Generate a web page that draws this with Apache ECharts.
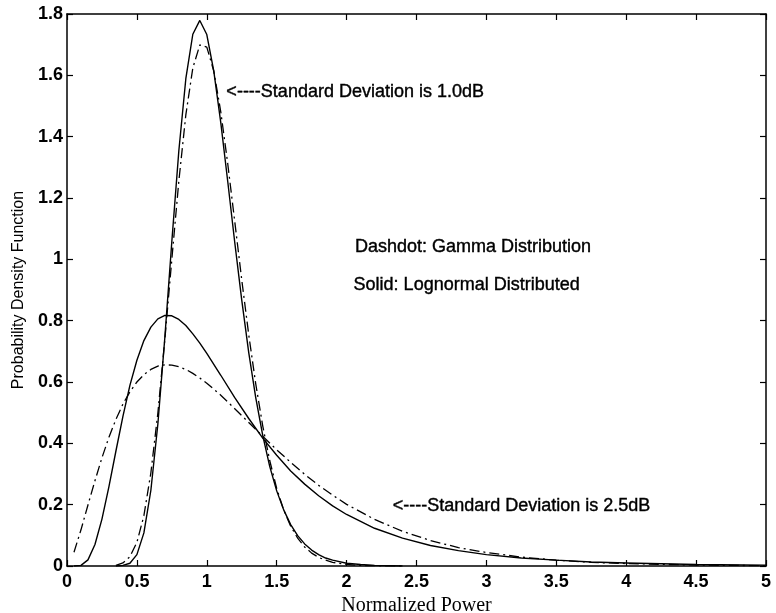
<!DOCTYPE html>
<html>
<head>
<meta charset="utf-8">
<script src="https://cdn.jsdelivr.net/npm/echarts@6/dist/echarts.min.js"></script>
<style>
  html, body { margin: 0; padding: 0; background: #fff; }
  #chart { width: 776px; height: 613px; }
</style>
</head>
<body>
<div id="chart"></div>
<script>
// Normalized power sample points for the narrow (1.0 dB) curves
const xNarrow = [0.35, 0.40, 0.45, 0.50, 0.55, 0.60, 0.65, 0.70, 0.75, 0.80,
                 0.85, 0.90, 0.95, 1.00, 1.05, 1.10, 1.15, 1.20, 1.25, 1.30,
                 1.35, 1.40, 1.45, 1.50, 1.55, 1.60, 1.65, 1.70, 1.75, 1.80,
                 1.85, 1.90, 2.00, 2.10, 2.20, 2.40];
// Lognormal PDF, standard deviation 1.0 dB
const lognormal10 = [0.000, 0.002, 0.009, 0.037, 0.108, 0.247, 0.463, 0.746, 1.059, 1.354,
                     1.589, 1.734, 1.779, 1.733, 1.614, 1.446, 1.253, 1.055, 0.867, 0.696,
                     0.549, 0.426, 0.325, 0.245, 0.183, 0.135, 0.099, 0.072, 0.052, 0.037,
                     0.026, 0.019, 0.009, 0.005, 0.002, 0.000];
// Gamma PDF, standard deviation 1.0 dB
const gamma10 = [0.002, 0.010, 0.030, 0.077, 0.164, 0.304, 0.499, 0.739, 1.001, 1.255,
                 1.471, 1.624, 1.699, 1.692, 1.614, 1.481, 1.311, 1.123, 0.933, 0.754,
                 0.594, 0.457, 0.344, 0.253, 0.183, 0.130, 0.091, 0.062, 0.042, 0.028,
                 0.019, 0.012, 0.005, 0.002, 0.001, 0.000];

// Normalized power sample points for the wide (2.5 dB) curves
const xWide = [0.05, 0.10, 0.15, 0.20, 0.25, 0.30, 0.35, 0.40, 0.45, 0.50,
               0.55, 0.60, 0.65, 0.70, 0.75, 0.80, 0.85, 0.90, 0.95, 1.00,
               1.1, 1.2, 1.3, 1.4, 1.5, 1.6, 1.7, 1.8, 1.9, 2.0,
               2.2, 2.4, 2.6, 2.8, 3.0, 3.25, 3.5, 3.75, 4.0, 4.5, 5.0];
// Lognormal PDF, standard deviation 2.5 dB
const lognormal25 = [0.000, 0.002, 0.020, 0.070, 0.153, 0.259, 0.375, 0.488, 0.589, 0.671,
                     0.735, 0.779, 0.806, 0.817, 0.816, 0.804, 0.784, 0.757, 0.727, 0.693,
                     0.622, 0.549, 0.481, 0.417, 0.361, 0.310, 0.267, 0.229, 0.196, 0.168,
                     0.123, 0.091, 0.067, 0.050, 0.037, 0.026, 0.019, 0.013, 0.010, 0.005, 0.003];
// Gamma PDF, standard deviation 2.5 dB
const gamma25 = [0.045, 0.118, 0.199, 0.278, 0.353, 0.420, 0.478, 0.528, 0.568, 0.600,
                 0.624, 0.641, 0.652, 0.656, 0.655, 0.650, 0.641, 0.628, 0.613, 0.596,
                 0.557, 0.513, 0.468, 0.423, 0.379, 0.338, 0.299, 0.263, 0.231, 0.201,
                 0.152, 0.113, 0.083, 0.060, 0.044, 0.029, 0.019, 0.012, 0.008, 0.003, 0.001];

// Text notes placed in data coordinates (left edge, vertical centre)
const notes = [
  { text: '<----Standard Deviation is 1.0dB', at: [1.14, 1.545] },
  { text: 'Dashdot: Gamma Distribution',      at: [2.06, 1.04] },
  { text: 'Solid: Lognormal Distributed',     at: [2.05, 0.916] },
  { text: '<----Standard Deviation is 2.5dB', at: [2.33, 0.195] }
];

const SANS = '"Liberation Sans", Arial, Helvetica, sans-serif';
const SERIF = '"Liberation Serif", "Times New Roman", serif';
const INK = '#000';

const pairs = (xs, ys) => xs.map((x, i) => [x, ys[i]]);

const solid = { color: INK, width: 1.4, type: 'solid' };
const dashdot = { color: INK, width: 1.3, type: [10, 4, 2, 4] };

const lineSeries = (name, xs, ys, style) => ({
  name, type: 'line', data: pairs(xs, ys),
  showSymbol: false, symbol: 'none', smooth: false,
  lineStyle: style, z: 3, silent: true, animation: false
});

const frameAxis = {
  axisLine: { show: true, onZero: false, lineStyle: { color: INK, width: 1.5 } },
  axisTick: { show: true, inside: true, length: 6, lineStyle: { color: INK, width: 1.2 } },
  splitLine: { show: false }
};

const tickText = { fontFamily: SANS, fontSize: 18, fontWeight: 'bold', color: INK };

const chart = echarts.init(document.getElementById('chart'), null, { renderer: 'canvas' });

chart.setOption({
  animation: false,
  backgroundColor: '#fff',
  grid: { left: 67, right: 10, top: 14, bottom: 47, containLabel: false, outerBoundsMode: 'none' },
  xAxis: [
    Object.assign({
      type: 'value', position: 'bottom', min: 0, max: 5, interval: 0.5,
      name: 'Normalized Power', nameLocation: 'middle', nameGap: 22,
      nameTextStyle: { fontFamily: SERIF, fontSize: 20, color: INK },
      axisLabel: Object.assign({ margin: 7 }, tickText)
    }, frameAxis),
    Object.assign({
      type: 'value', position: 'top', min: 0, max: 5, interval: 0.5,
      axisLabel: { show: false }
    }, frameAxis)
  ],
  yAxis: [
    Object.assign({
      type: 'value', position: 'left', min: 0, max: 1.8, interval: 0.2,
      name: 'Probability Density Function', nameLocation: 'middle', nameGap: 34,
      nameTextStyle: { fontFamily: SANS, fontSize: 16, color: INK },
      axisLabel: Object.assign({ margin: 4 }, tickText)
    }, frameAxis),
    Object.assign({
      type: 'value', position: 'right', min: 0, max: 1.8, interval: 0.2,
      axisLabel: { show: false }
    }, frameAxis)
  ],
  series: [
    lineSeries('Lognormal 1.0dB', xNarrow, lognormal10, solid),
    lineSeries('Gamma 1.0dB', xNarrow, gamma10, dashdot),
    lineSeries('Lognormal 2.5dB', xWide, lognormal25, solid),
    lineSeries('Gamma 2.5dB', xWide, gamma25, dashdot)
  ]
});

// Place the notes once the axes are laid out
chart.setOption({
  graphic: notes.map(n => {
    const p = chart.convertToPixel({ xAxisIndex: 0, yAxisIndex: 0 }, n.at);
    return {
      type: 'text', x: p[0], y: p[1], silent: true, z: 10,
      style: {
        text: n.text, fill: INK, font: '18px ' + SANS,
        stroke: INK, lineWidth: 0.4,
        verticalAlign: 'middle', align: 'left'
      }
    };
  })
});
</script>
</body>
</html>
